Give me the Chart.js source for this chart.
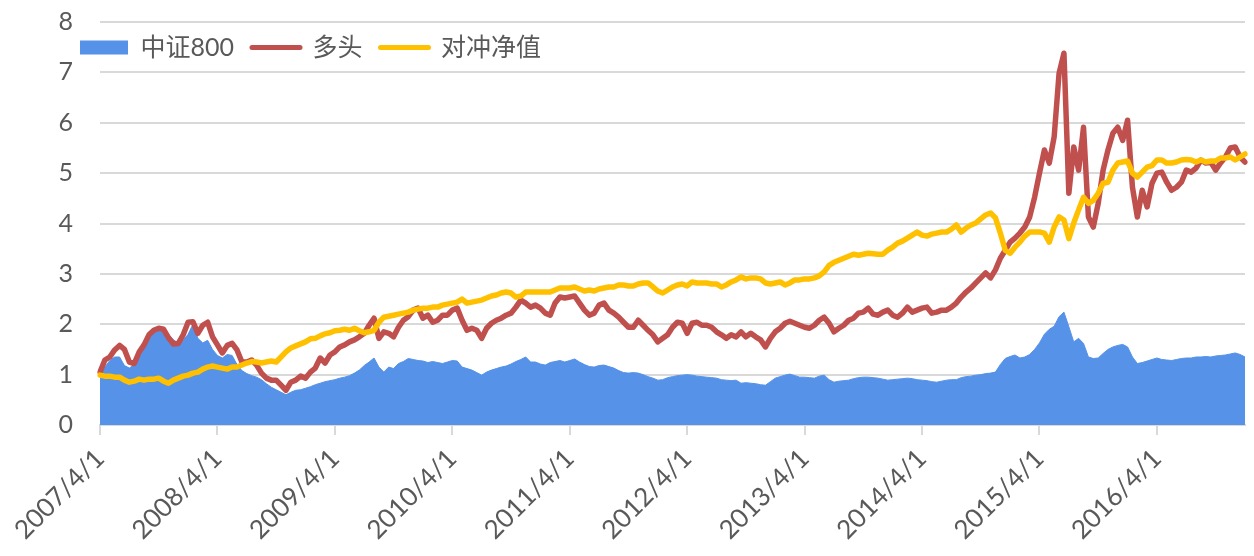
<!DOCTYPE html>
<html>
<head>
<meta charset="utf-8">
<script src="https://cdn.jsdelivr.net/npm/chart.js@4"></script>
<style>
  html, body { margin: 0; padding: 0; background: #fff; }
  #wrap { width: 1254px; height: 556px; }
</style>
</head>
<body>
<div id="wrap"><canvas id="navChart"></canvas></div>
<script>
// year ticks shown on the x axis
const tickLabels = ["2007/4/1", "2008/4/1", "2009/4/1", "2010/4/1", "2011/4/1",
    "2012/4/1", "2013/4/1", "2014/4/1", "2015/4/1", "2016/4/1"];

// half-month observations, 2007/4/1 .. 2017/1/1 (one row per year)
const csi800 = [
    1.03, 1.15, 1.28, 1.35, 1.35, 1.18, 1.13, 1.2, 1.5, 1.65, 1.78, 1.86, 1.94, 1.9, 1.8, 1.69, 1.63, 1.68, 1.8, 2.0, 1.72, 1.63, 1.68, 1.5,
    1.38, 1.33, 1.4, 1.38, 1.2, 1.08, 1.02, 0.98, 0.95, 0.9, 0.82, 0.75, 0.7, 0.65, 0.6, 0.65, 0.69, 0.7, 0.73, 0.76, 0.8, 0.83, 0.86, 0.88,
    0.9, 0.93, 0.95, 0.98, 1.03, 1.09, 1.18, 1.25, 1.33, 1.15, 1.05, 1.15, 1.12, 1.22, 1.26, 1.32, 1.3, 1.28, 1.27, 1.24, 1.26, 1.24, 1.22, 1.25,
    1.28, 1.27, 1.15, 1.12, 1.09, 1.04, 0.99, 1.05, 1.09, 1.12, 1.15, 1.17, 1.21, 1.26, 1.3, 1.35, 1.25, 1.25, 1.21, 1.19, 1.24, 1.26, 1.28, 1.25,
    1.28, 1.31, 1.25, 1.2, 1.16, 1.15, 1.18, 1.19, 1.16, 1.13, 1.08, 1.04, 1.03, 1.04, 1.03, 1.0, 0.96, 0.93, 0.89, 0.9, 0.94, 0.96, 0.98, 0.99,
    1.0, 0.99, 0.97, 0.96, 0.95, 0.94, 0.93, 0.9, 0.89, 0.88, 0.89, 0.83, 0.84, 0.83, 0.82, 0.8, 0.79, 0.86, 0.93, 0.96, 0.99, 1.01, 0.98, 0.95,
    0.95, 0.94, 0.93, 0.97, 0.99, 0.9, 0.85, 0.87, 0.88, 0.89, 0.92, 0.94, 0.95, 0.95, 0.94, 0.93, 0.91, 0.89, 0.9, 0.91, 0.92, 0.93, 0.92, 0.9,
    0.89, 0.88, 0.86, 0.85, 0.87, 0.89, 0.9, 0.9, 0.94, 0.96, 0.97, 0.99, 1.0, 1.02, 1.03, 1.05, 1.2, 1.32, 1.36, 1.39, 1.33, 1.35, 1.4, 1.5,
    1.63, 1.8, 1.9, 1.96, 2.15, 2.24, 1.95, 1.65, 1.72, 1.62, 1.35, 1.32, 1.33, 1.42, 1.5, 1.55, 1.58, 1.6, 1.55, 1.35, 1.22, 1.24, 1.27, 1.3,
    1.33, 1.3, 1.29, 1.28, 1.3, 1.32, 1.33, 1.33, 1.35, 1.35, 1.36, 1.35, 1.37, 1.38, 1.39, 1.41, 1.43, 1.4, 1.35
];
const longOnly = [
    1.05, 1.29, 1.35, 1.49, 1.58, 1.5, 1.25, 1.22, 1.45, 1.59, 1.79, 1.88, 1.92, 1.9, 1.73, 1.61, 1.62, 1.79, 2.04, 2.05, 1.82, 1.98, 2.04, 1.75,
    1.59, 1.43, 1.58, 1.62, 1.49, 1.25, 1.25, 1.29, 1.19, 1.03, 0.93, 0.89, 0.89, 0.79, 0.69, 0.85, 0.89, 0.97, 0.93, 1.05, 1.13, 1.33, 1.23, 1.39,
    1.45, 1.55, 1.59, 1.65, 1.69, 1.75, 1.82, 1.98, 2.12, 1.72, 1.85, 1.82, 1.75, 1.94, 2.08, 2.15, 2.28, 2.32, 2.12, 2.18, 2.04, 2.08, 2.18, 2.18,
    2.28, 2.32, 2.08, 1.88, 1.92, 1.88, 1.72, 1.92, 2.02, 2.08, 2.12, 2.18, 2.22, 2.34, 2.48, 2.42, 2.34, 2.38, 2.32, 2.22, 2.18, 2.42, 2.54, 2.52,
    2.54, 2.56, 2.42, 2.28, 2.18, 2.22, 2.38, 2.42, 2.28, 2.22, 2.14, 2.04, 1.94, 1.94, 2.08, 1.98, 1.88, 1.79, 1.65, 1.72, 1.79, 1.94, 2.04, 2.02,
    1.82, 2.02, 2.04, 1.98, 1.98, 1.94, 1.85, 1.79, 1.72, 1.79, 1.75, 1.85, 1.75, 1.82, 1.75, 1.69, 1.55, 1.72, 1.85, 1.92, 2.02, 2.06, 2.02, 1.98,
    1.94, 1.92, 1.98, 2.08, 2.14, 2.02, 1.85, 1.92, 1.98, 2.08, 2.12, 2.22, 2.24, 2.32, 2.2, 2.18, 2.24, 2.28, 2.18, 2.14, 2.22, 2.34, 2.24, 2.28,
    2.32, 2.34, 2.22, 2.24, 2.28, 2.28, 2.34, 2.42, 2.54, 2.64, 2.72, 2.82, 2.92, 3.02, 2.92, 3.08, 3.31, 3.47, 3.63, 3.71, 3.81, 3.93, 4.13, 4.52,
    5.0, 5.46, 5.2, 5.72, 6.98, 7.38, 4.6, 5.52, 5.06, 5.91, 4.13, 3.93, 4.4, 5.06, 5.46, 5.79, 5.91, 5.65, 6.05, 4.72, 4.13, 4.66, 4.33, 4.8,
    5.0, 5.02, 4.82, 4.66, 4.72, 4.82, 5.06, 5.02, 5.1, 5.26, 5.2, 5.22, 5.06, 5.2, 5.32, 5.5, 5.52, 5.32, 5.22
];
const hedgedNav = [
    0.99, 0.97, 0.97, 0.95, 0.95, 0.89, 0.85, 0.87, 0.91, 0.89, 0.91, 0.91, 0.93, 0.87, 0.83, 0.89, 0.93, 0.97, 0.99, 1.03, 1.05, 1.11, 1.15, 1.17,
    1.15, 1.13, 1.11, 1.15, 1.15, 1.19, 1.23, 1.26, 1.25, 1.23, 1.25, 1.27, 1.25, 1.35, 1.45, 1.53, 1.57, 1.61, 1.65, 1.71, 1.72, 1.77, 1.81, 1.83,
    1.87, 1.88, 1.9, 1.88, 1.92, 1.87, 1.83, 1.85, 1.88, 2.04, 2.14, 2.16, 2.18, 2.2, 2.22, 2.24, 2.28, 2.3, 2.32, 2.32, 2.34, 2.34, 2.38, 2.4,
    2.42, 2.44, 2.5, 2.42, 2.44, 2.46, 2.48, 2.52, 2.56, 2.58, 2.62, 2.64, 2.62, 2.54, 2.56, 2.64, 2.64, 2.64, 2.64, 2.64, 2.64, 2.68, 2.72, 2.72,
    2.72, 2.74, 2.7, 2.66, 2.68, 2.66, 2.7, 2.72, 2.74, 2.74, 2.78, 2.78, 2.76, 2.76, 2.8, 2.82, 2.82, 2.74, 2.66, 2.62, 2.68, 2.74, 2.78, 2.8,
    2.76, 2.84, 2.82, 2.82, 2.82, 2.8, 2.8, 2.74, 2.78, 2.84, 2.88, 2.94, 2.9, 2.92, 2.92, 2.9, 2.82, 2.8, 2.82, 2.84, 2.78, 2.82, 2.88, 2.88,
    2.9, 2.9, 2.92, 2.96, 3.04, 3.17, 3.23, 3.27, 3.31, 3.35, 3.39, 3.37, 3.39, 3.41, 3.4, 3.39, 3.39, 3.47, 3.53, 3.61, 3.65, 3.71, 3.77, 3.83,
    3.77, 3.75, 3.79, 3.81, 3.83, 3.83, 3.89, 3.97, 3.83, 3.91, 3.97, 4.01, 4.09, 4.17, 4.21, 4.11, 3.81, 3.47, 3.41, 3.53, 3.63, 3.75, 3.83, 3.83,
    3.83, 3.81, 3.63, 3.93, 4.13, 4.07, 3.7, 4.01, 4.27, 4.52, 4.4, 4.46, 4.6, 4.8, 4.82, 5.06, 5.2, 5.22, 5.24, 5.0, 4.92, 5.02, 5.12, 5.15,
    5.26, 5.26, 5.2, 5.2, 5.22, 5.26, 5.27, 5.26, 5.22, 5.26, 5.22, 5.24, 5.24, 5.3, 5.3, 5.32, 5.26, 5.32, 5.38
];

// category labels: 1st and 16th of each month
const dates = [];
for (let i = 0; i < csi800.length; i++) {
    const m = 3 + Math.floor(i / 2);
    const y = 2007 + Math.floor(m / 12);
    dates.push(y + "/" + (m % 12 + 1) + "/" + (i % 2 ? 16 : 1));
}

const gridGrey = "#d9d9d9";
const textGrey = "#595959";
const fontFamily = "Lato, 'Noto Sans CJK SC', sans-serif";

// legend takes no room of its own: move it into the top-left corner of the plot
const legendShift = {
    id: "legendShift",
    afterLayout(chart) {
        const lg = chart.legend;
        lg.left = chart.chartArea.left - 38;
        lg.top = chart.chartArea.top - 5;
        lg.bottom = lg.top + 70;
        lg.height = 70;
    }
};

new Chart(document.getElementById("navChart"), {
    type: "line",
    data: {
        labels: dates,
        datasets: [
            {
                label: "中证800",
                data: csi800,
                borderColor: "#5592E8",
                backgroundColor: "#5592E8",
                borderWidth: 1,
                fill: "origin",
                pointRadius: 0,
                order: 3
            },
            {
                label: "多头",
                data: longOnly,
                borderColor: "#C0504D",
                borderWidth: 5.5,
                borderJoinStyle: "round",
                borderCapStyle: "round",
                fill: false,
                pointRadius: 0,
                order: 2
            },
            {
                label: "对冲净值",
                data: hedgedNav,
                borderColor: "#FFC000",
                borderWidth: 5.5,
                borderJoinStyle: "round",
                borderCapStyle: "round",
                fill: false,
                pointRadius: 0,
                order: 1
            }
        ]
    },
    options: {
        responsive: true,
        maintainAspectRatio: false,
        animation: false,
        layout: { padding: { top: 21, right: 9, left: 0, bottom: 0 } },
        plugins: {
            tooltip: { enabled: false },
            legend: {
                position: "top",
                align: "start",
                maxHeight: 1,
                labels: {
                    usePointStyle: true,
                    pointStyleWidth: 48,
                    boxHeight: 14,
                    padding: 18,
                    color: textGrey,
                    font: { family: fontFamily, size: 25 },
                    generateLabels: (chart) => chart.data.datasets.map((ds, i) => ({
                        text: ds.label,
                        fillStyle: ds.borderColor,
                        strokeStyle: ds.borderColor,
                        lineWidth: ds.fill ? 0 : 5,
                        lineCap: "round",
                        pointStyle: ds.fill ? "rect" : "line",
                        fontColor: textGrey,
                        hidden: false,
                        datasetIndex: i
                    }))
                }
            }
        },
        scales: {
            x: {
                type: "category",
                offset: false,
                afterFit: (scale) => {
                    scale.height = 131;
                    scale.paddingLeft = 0;
                    scale.paddingRight = 0;
                },
                border: { color: gridGrey, width: 2 },
                grid: {
                    drawOnChartArea: false,
                    drawTicks: true,
                    tickLength: 10,
                    lineWidth: 2,
                    color: (ctx) => tickLabels.includes(dates[ctx.index]) ? gridGrey : "rgba(0,0,0,0)"
                },
                ticks: {
                    autoSkip: false,
                    maxRotation: 45,
                    minRotation: 45,
                    padding: 8,
                    color: textGrey,
                    font: { family: fontFamily, size: 26 },
                    callback: (value, index) => tickLabels.includes(dates[index]) ? dates[index] : ""
                }
            },
            y: {
                min: 0,
                max: 8,
                afterFit: (scale) => {
                    scale.width = 100;
                    scale.paddingTop = 0;
                    scale.paddingBottom = 0;
                },
                border: { display: false },
                grid: { color: gridGrey, lineWidth: 2, drawTicks: false },
                ticks: {
                    stepSize: 1,
                    padding: 27,
                    color: textGrey,
                    font: { family: fontFamily, size: 25 }
                }
            }
        }
    },
    plugins: [legendShift]
});
</script>
</body>
</html>
